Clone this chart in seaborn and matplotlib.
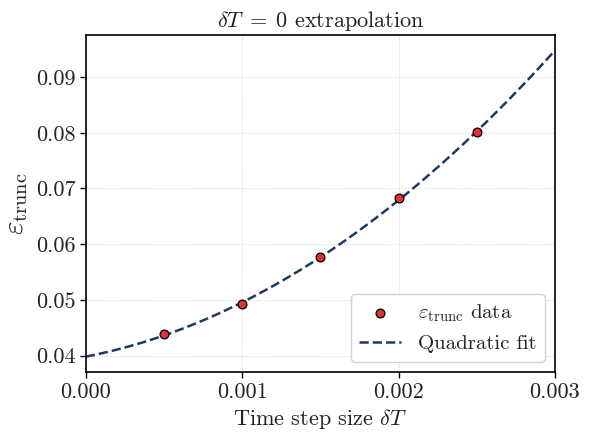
import numpy as np
import pandas as pd
import matplotlib
matplotlib.use("Agg")
import matplotlib.pyplot as plt
import seaborn as sns

# data
dt_values = [0.0005, 0.0010, 0.0015, 0.0020, 0.0025]
eps_trunc = [0.0438, 0.0492, 0.0577, 0.0682, 0.0801]

x_range = [0.0, 0.003]
x_ticks = [0.000, 0.001, 0.002, 0.003]
x_ticklabels = ["0.000", "0.001", "0.002", "0.003"]
y_ticks = [0.04, 0.05, 0.06, 0.07, 0.08, 0.09]
y_ticklabels = ["0.04", "0.05", "0.06", "0.07", "0.08", "0.09"]

sns.set_theme(style="ticks")
plt.rcParams["font.family"] = ["serif"]
plt.rcParams["font.serif"] = ["cmr10", "DejaVu Serif"]
plt.rcParams["mathtext.fontset"] = "cm"
plt.rcParams["axes.formatter.use_mathtext"] = True
plt.rcParams["axes.unicode_minus"] = False

# quadratic fit through the data
coef = np.polyfit(dt_values, eps_trunc, 2)
x_fit = np.linspace(x_range[0], x_range[1], 200)
fit_df = pd.DataFrame({"dt": x_fit, "eps": np.polyval(coef, x_fit)})
data_df = pd.DataFrame({"dt": dt_values, "eps": eps_trunc})

fig = plt.figure(figsize=(6, 4.33), dpi=100)
ax = fig.add_axes([0.143, 0.141, 0.782, 0.778])

sns.lineplot(data=fit_df, x="dt", y="eps", ax=ax, color="#1f3a60",
             linestyle="--", linewidth=1.8, label="Quadratic fit", zorder=2)
sns.scatterplot(data=data_df, x="dt", y="eps", ax=ax, color="#e0303a",
                edgecolor="black", linewidth=0.9, s=40, zorder=3,
                label=r"$\varepsilon_{\mathrm{trunc}}$ data")

ax.set_xlim(*x_range)
ax.set_xticks(x_ticks)
ax.set_xticklabels(x_ticklabels)
ax.set_yticks(y_ticks)
ax.set_yticklabels(y_ticklabels)
ax.grid(True, color="#d0d0d0", linestyle=":", linewidth=0.7)
ax.tick_params(labelsize=16, length=4, width=1, direction="out",
               colors="black", labelcolor="#222222")
for sp in ax.spines.values():
    sp.set_linewidth(1.2)
    sp.set_color("black")

ax.set_xlabel(r"Time step size $\delta T$", fontsize=16, color="#222222")
ax.set_ylabel(r"$\varepsilon_{\mathrm{trunc}}$", fontsize=21, color="#222222",
              labelpad=4)
ax.set_title(r"$\delta T\;=\;0$ extrapolation", fontsize=16, color="#222222")

handles, labels = ax.get_legend_handles_labels()
leg = ax.legend(handles[::-1], labels[::-1], loc="lower right", fontsize=15,
                frameon=True, fancybox=True, edgecolor="#cccccc", framealpha=0.9)
for t in leg.get_texts():
    t.set_color("#222222")

fig.savefig("out.png", dpi=100)
